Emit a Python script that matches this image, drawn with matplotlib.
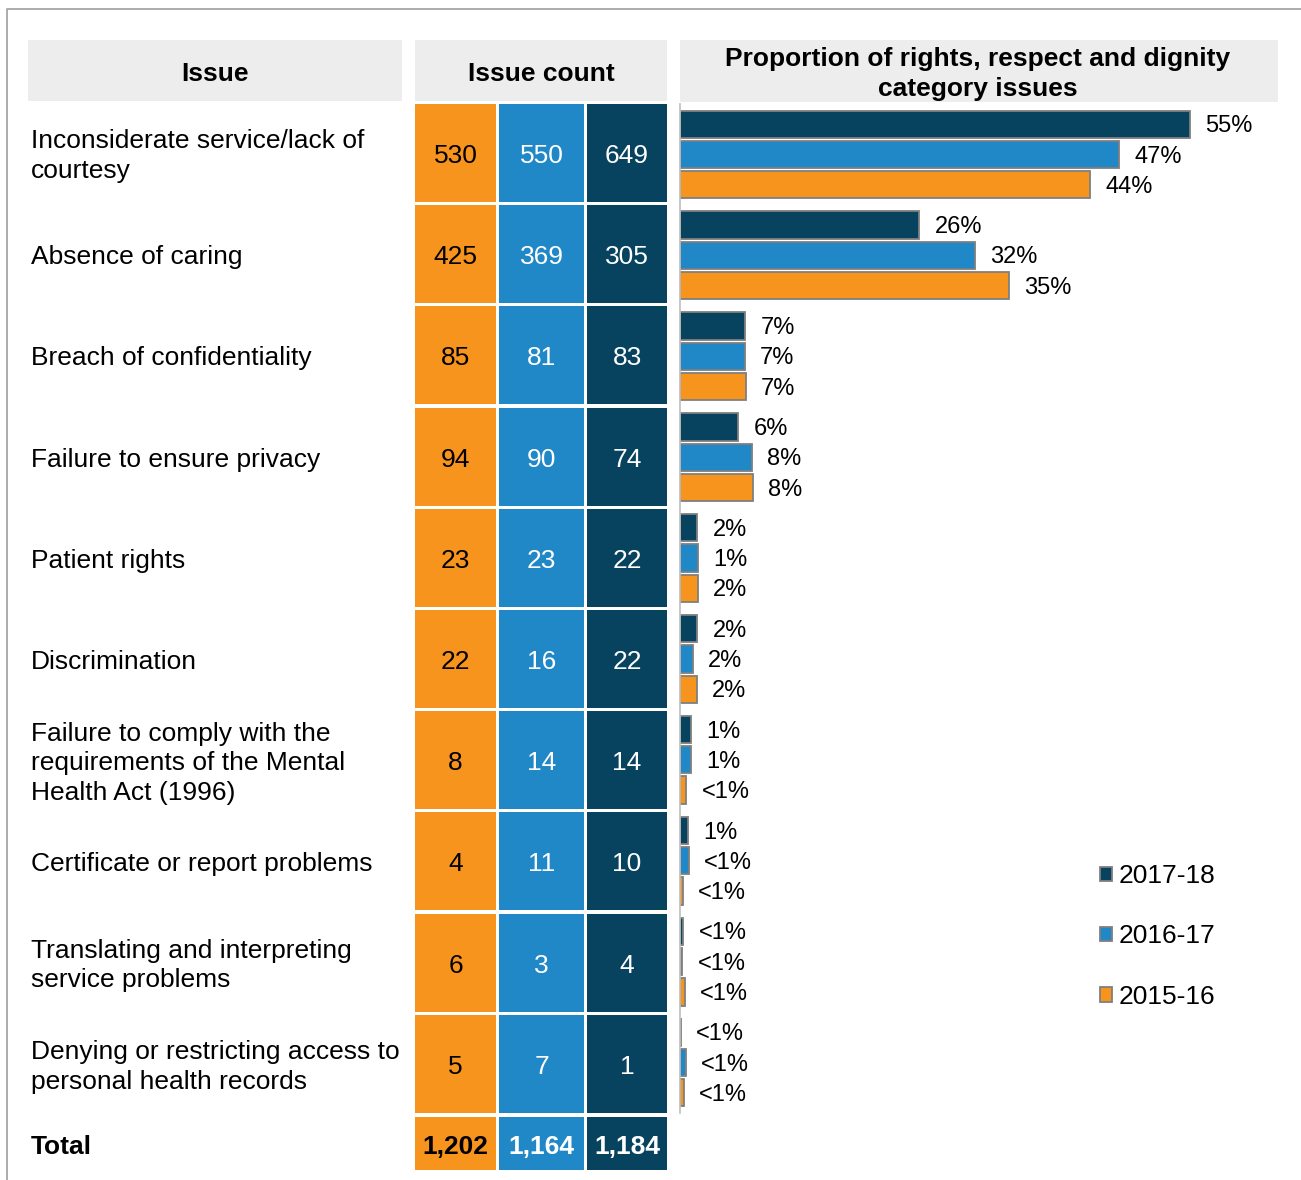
import matplotlib
matplotlib.use("Agg")
import matplotlib.pyplot as plt
from matplotlib.patches import Rectangle, Patch

plt.rcParams['font.family'] = ['Liberation Sans', 'DejaVu Sans']

# data
issues = [
    "Inconsiderate service/lack of\ncourtesy",
    "Absence of caring",
    "Breach of confidentiality",
    "Failure to ensure privacy",
    "Patient rights",
    "Discrimination",
    "Failure to comply with the\nrequirements of the Mental\nHealth Act (1996)",
    "Certificate or report problems",
    "Translating and interpreting\nservice problems",
    "Denying or restricting access to\npersonal health records",
]
years = ["2015-16", "2016-17", "2017-18"]
count_1516 = [530, 425, 85, 94, 23, 22, 8, 4, 6, 5]
count_1617 = [550, 369, 81, 90, 23, 16, 14, 11, 3, 7]
count_1718 = [649, 305, 83, 74, 22, 22, 14, 10, 4, 1]
totals = [1202, 1164, 1184]
label_1516 = ["44%", "35%", "7%", "8%", "2%", "2%", "<1%", "<1%", "<1%", "<1%"]
label_1617 = ["47%", "32%", "7%", "8%", "1%", "2%", "1%", "<1%", "<1%", "<1%"]
label_1718 = ["55%", "26%", "7%", "6%", "2%", "2%", "1%", "1%", "<1%", "<1%"]

orange = '#F7941E'
blue = '#2088C6'
dark = '#07425E'
grey_hdr = '#EDEDED'
colors = [orange, blue, dark]
txt_colors = ['black', 'white', 'white']

fs = 19
dy = 3  # small nudge so text sits like the original
W, H = 1301, 1180
fig = plt.figure(figsize=(W / 100, H / 100), dpi=100)

# table part, pixel coordinates
ax = fig.add_axes([0, 0, 1, 1])
ax.set_xlim(0, W)
ax.set_ylim(H, 0)
ax.axis('off')

# outer frame
ax.plot([7, 7, W], [H, 9, 9], color='#A6A6A6', lw=1.3)

# header boxes
ax.add_patch(Rectangle((28, 40), 374, 61, color=grey_hdr, lw=0))
ax.add_patch(Rectangle((415, 40), 252, 61, color=grey_hdr, lw=0))
ax.add_patch(Rectangle((680, 40), 598, 62, color=grey_hdr, lw=0))
ax.text(215, 71 + dy, "Issue", ha='center', va='center', fontsize=fs, fontweight='bold')
ax.text(541, 71 + dy, "Issue count", ha='center', va='center', fontsize=fs, fontweight='bold')
ax.text(978, 71 + dy, "Proportion of rights, respect and dignity\ncategory issues",
        ha='center', va='center', fontsize=fs, fontweight='bold', linespacing=1.28)

row_top, pitch, cell_h = 104, 101.2, 98
col_x = [415, 499, 587]
col_w = [81, 85, 80]
counts = [count_1516, count_1617, count_1718]

for i, issue in enumerate(issues):
    y0 = row_top + i * pitch
    yc = y0 + cell_h / 2
    ax.text(31, yc + dy, issue, ha='left', va='center', fontsize=fs, linespacing=1.3)
    for j in range(3):
        ax.add_patch(Rectangle((col_x[j], y0), col_w[j], cell_h, color=colors[j], lw=0))
        ax.text(col_x[j] + col_w[j] / 2, yc + dy, str(counts[j][i]), ha='center', va='center',
                fontsize=fs, color=txt_colors[j])

# total row
y0 = 1117
th = 53
ax.text(31, y0 + th / 2 + dy, "Total", ha='left', va='center', fontsize=fs, fontweight='bold')
for j in range(3):
    ax.add_patch(Rectangle((col_x[j], y0), col_w[j], th, color=colors[j], lw=0))
    ax.text(col_x[j] + col_w[j] / 2, y0 + th / 2 + dy, f"{totals[j]:,}", ha='center', va='center',
            fontsize=fs, fontweight='bold', color=txt_colors[j])

# bar chart part
bar_top, bar_bot = 104, 104 + 10 * pitch - 3
axb = fig.add_axes([680 / W, 1 - bar_bot / H, (W - 680) / W, (bar_bot - bar_top) / H])
axb.patch.set_alpha(0)
n = len(issues)
ypos = list(range(n))
series = [
    (count_1718, totals[2], dark, label_1718, -0.30, "2017-18"),
    (count_1617, totals[1], blue, label_1617, 0.0, "2016-17"),
    (count_1516, totals[0], orange, label_1516, 0.30, "2015-16"),
]
for cnt, tot, col, labs, off, name in series:
    share = [c / tot * 100 for c in cnt]
    bars = axb.barh([y + off for y in ypos], share, height=0.27, color=col,
                    edgecolor='#7F7F7F', lw=1.3, label=name)
    for b, lab in zip(bars, labs):
        axb.annotate(lab, (b.get_width(), b.get_y() + b.get_height() / 2),
                     xytext=(11, -1.5), textcoords='offset points',
                     ha='left', va='center', fontsize=17)

axb.set_xlim(0, 66.8)
axb.set_ylim(n - 0.5, -0.5)
for s in ['top', 'right', 'bottom']:
    axb.spines[s].set_visible(False)
axb.spines['left'].set_color('#BFBFBF')
axb.spines['left'].set_linewidth(1.2)
axb.set_xticks([])
axb.set_yticks([])

handles = [Patch(facecolor=dark, edgecolor='#7F7F7F', lw=1.3),
           Patch(facecolor=blue, edgecolor='#7F7F7F', lw=1.3),
           Patch(facecolor=orange, edgecolor='#7F7F7F', lw=1.3)]
fig.legend(handles, ["2017-18", "2016-17", "2015-16"], loc='upper left',
           bbox_to_anchor=(1100 / W, 1 - 864 / H), frameon=False, fontsize=fs,
           handlelength=0.45, handleheight=0.45, handletextpad=0.25,
           labelspacing=1.38, borderpad=0, borderaxespad=0)

fig.savefig("out.png", dpi=100)
